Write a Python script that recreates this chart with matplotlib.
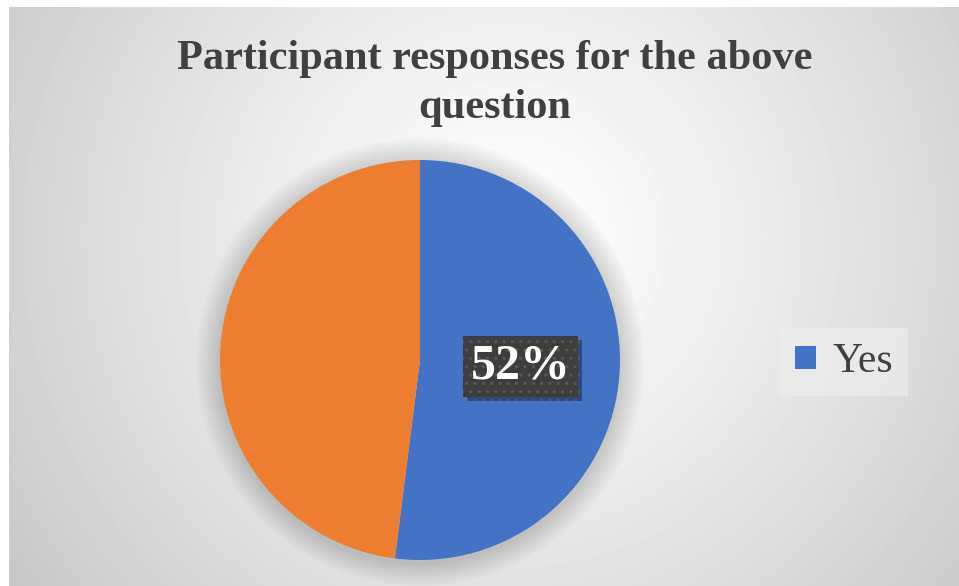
import matplotlib.pyplot as plt
import matplotlib.patheffects as pe
from matplotlib.patches import Circle
import numpy as np

# data
labels = ['Yes', 'No']
values = [52, 48]
colors = ['#4472C4', '#ED7D31']
title = 'Participant responses for the above\nquestion'

W, H = 959, 586
fig = plt.figure(figsize=(W / 100, H / 100), dpi=100)
fig.patch.set_facecolor('white')

# radial gradient background of the chart area
bg = fig.add_axes([9 / W, 0, (W - 9) / W, (H - 7) / H])
bg.set_axis_off()
yy, xx = np.mgrid[0:H - 7, 0:W - 9]
cx, cy = 500, 230
r = np.sqrt((xx - cx) ** 2 + (yy - cy) ** 2)
r = r / r.max()
shade = 1.0 - 0.22 * np.clip(r, 0, 1) ** 1.2
bg.imshow(shade, cmap='gray', vmin=0, vmax=1, aspect='auto',
          extent=[0, 1, 0, 1], origin='upper', interpolation='bilinear')
bg.set_xlim(0, 1)
bg.set_ylim(0, 1)

# pie
ax = fig.add_axes([220 / W, 26 / H, 400 / W, 400 / H])
for i in range(10):
    ax.add_patch(Circle((0, -0.01), 1.0 + 0.012 * (10 - i), color='black',
                        alpha=0.014, lw=0, clip_on=False, zorder=0))
wedges, texts, autotexts = ax.pie(values, colors=colors, startangle=90,
                                  counterclock=False, autopct='%1.0f%%',
                                  pctdistance=0.505,
                                  wedgeprops=dict(linewidth=0))
for w in wedges:
    w.set_zorder(2)
for t in texts:
    t.set_visible(False)
autotexts[1].set_visible(False)

plt.rcParams['hatch.linewidth'] = 1.2
lab = autotexts[0]
lab.set_fontfamily('Liberation Serif')
lab.set_fontweight('bold')
lab.set_fontsize(36)
lab.set_color('white')
lab.set_zorder(5)
lab.set_bbox(dict(boxstyle='square,pad=0.15', facecolor='#3d3d3d',
                  edgecolor='#555555', linewidth=0, hatch='..'))
lab.get_bbox_patch().set_path_effects(
    [pe.SimplePatchShadow(offset=(3, -3), shadow_rgbFace='black', alpha=0.35),
     pe.Normal()])
ax.set_xlim(-1, 1)
ax.set_ylim(-1, 1)
ax.set_aspect('equal')
ax.set_axis_off()

# legend (only the first category is shown)
leg = fig.legend([wedges[0]], [labels[0]], loc='center',
                 bbox_to_anchor=(844 / W, 1 - 362 / H),
                 prop={'family': 'Liberation Serif', 'size': 30},
                 handlelength=0.5, handleheight=0.5, handletextpad=0.4,
                 borderpad=0.35, frameon=True, fancybox=False)
leg.get_frame().set_facecolor('#ececec')
leg.get_frame().set_edgecolor('none')
for t in leg.get_texts():
    t.set_color('#404040')

# title
fig.text(495 / W, 1 - 40 / H, title, ha='center', va='top',
         fontsize=30.5, fontweight='bold', fontfamily='Liberation Serif',
         color='#404040', linespacing=1.38)

fig.savefig('out.png', dpi=100)
